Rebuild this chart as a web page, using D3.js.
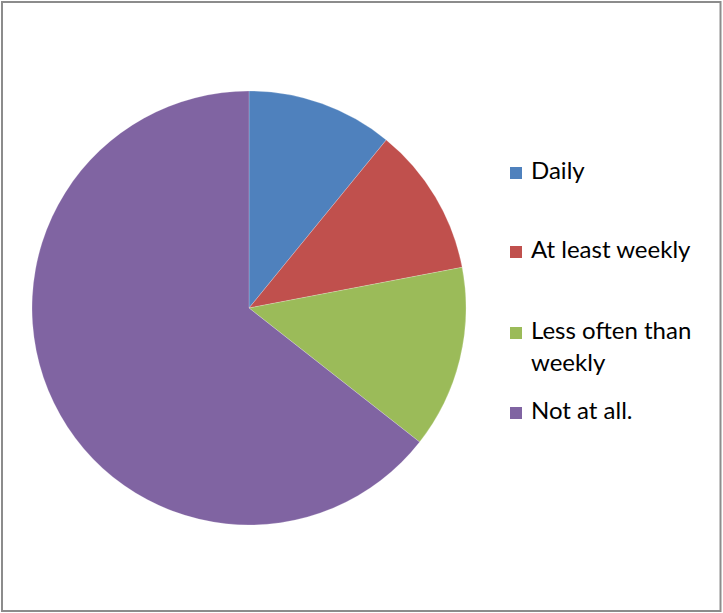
<!DOCTYPE html>
<html>
<head>
<meta charset="utf-8">
<script src="https://cdn.jsdelivr.net/npm/d3@7"></script>
<style>
  html, body { margin: 0; padding: 0; background: #fff; }
  svg { display: block; }
</style>
</head>
<body>
<svg id="chart" width="723" height="613"></svg>
<script>
// Frequency of use, share of respondents
const categories = ["Daily", "At least weekly", "Less often than weekly", "Not at all."];
const values = [10.9, 11.1, 13.6, 64.4];
const colors = ["#4F81BD", "#C0504D", "#9BBB59", "#8064A2"];
// Legend text, broken into lines
const legendLines = [["Daily"], ["At least weekly"], ["Less often than", "weekly"], ["Not at all."]];

const svg = d3.select("#chart");
const W = 723, H = 613;

// outer frame
svg.append("rect")
  .attr("x", 2).attr("y", 2)
  .attr("width", W - 4.5).attr("height", H - 4)
  .attr("fill", "#fff")
  .attr("stroke", "#8c8c8c")
  .attr("stroke-width", 2);

const cx = 249, cy = 308, r = 217;

const pie = d3.pie().sort(null).value(d => d)(values);
const arc = d3.arc().innerRadius(0).outerRadius(r);

svg.append("g")
  .attr("transform", `translate(${cx},${cy})`)
  .selectAll("path")
  .data(pie)
  .join("path")
  .attr("d", arc)
  .attr("fill", (d, i) => colors[i])
  .attr("stroke", "#ffffff")
  .attr("stroke-opacity", 0.35)
  .attr("stroke-width", 0.6);

// legend
const legendTop = [167, 246, 327, 407];
const legend = svg.append("g");
const fontFamily = "Lato, 'Open Sans', sans-serif";

legendLines.forEach((lines, i) => {
  const g = legend.append("g");
  g.append("rect")
    .attr("x", 510).attr("y", legendTop[i])
    .attr("width", 12).attr("height", 12)
    .attr("fill", colors[i]);
  lines.forEach((t, j) => {
    g.append("text")
      .attr("x", 531)
      .attr("y", legendTop[i] + 12 + j * 32)
      .attr("font-family", fontFamily)
      .attr("font-size", 24)
      .attr("fill", "#000")
      .text(t);
  });
});
</script>
</body>
</html>
